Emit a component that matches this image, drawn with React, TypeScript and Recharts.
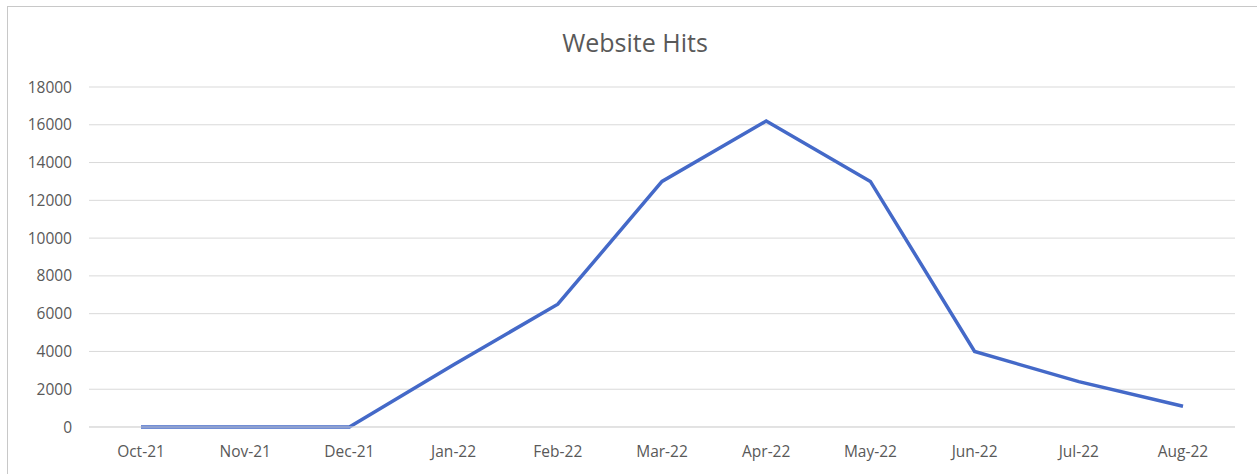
import { LineChart, Line, XAxis, YAxis, CartesianGrid } from 'recharts'

const months = ['Oct-21', 'Nov-21', 'Dec-21', 'Jan-22', 'Feb-22', 'Mar-22', 'Apr-22', 'May-22', 'Jun-22', 'Jul-22', 'Aug-22']
const hits = [0, 0, 0, 3300, 6500, 13000, 16200, 13000, 4000, 2400, 1100]
const yTicks = [0, 2000, 4000, 6000, 8000, 10000, 12000, 14000, 16000, 18000]

const data = months.map((month, i) => ({ month, hits: hits[i] }))

const font = '"Open Sans", "Noto Sans", sans-serif'

export default function App() {
  return (
    <div
      style={{
        position: 'absolute',
        left: 7,
        top: 6,
        width: 1260,
        height: 480,
        border: '1px solid #c8c8c8',
        background: '#fff',
        fontFamily: font
      }}
    >
      <div
        style={{
          position: 'absolute',
          top: 18,
          left: 527,
          width: 200,
          textAlign: 'center',
          fontSize: 25,
          lineHeight: '34px',
          color: '#595959'
        }}
      >
        Website Hits
      </div>
      <LineChart
        width={1242}
        height={458}
        data={data}
        margin={{ top: 80, right: 15, bottom: 8, left: 0 }}
      >
        <CartesianGrid vertical={false} stroke="#d9d9d9" />
        <XAxis
          dataKey="month"
          padding={{ left: 52, right: 52 }}
          axisLine={{ stroke: '#d9d9d9' }}
          tickLine={false}
          tickSize={0}
          tickMargin={19}
          height={30}
          interval={0}
          tick={{ fontSize: 15.5, fill: '#595959', fontFamily: font }}
        />
        <YAxis
          domain={[0, 18000]}
          ticks={yTicks}
          interval={0}
          axisLine={false}
          tickLine={false}
          tickSize={0}
          tickMargin={17}
          width={81}
          tick={{ fontSize: 15.5, fill: '#595959', fontFamily: font }}
        />
        <Line
          type="linear"
          dataKey="hits"
          stroke="#4469c8"
          strokeWidth={3.5}
          dot={false}
          isAnimationActive={false}
        />
      </LineChart>
    </div>
  )
}
